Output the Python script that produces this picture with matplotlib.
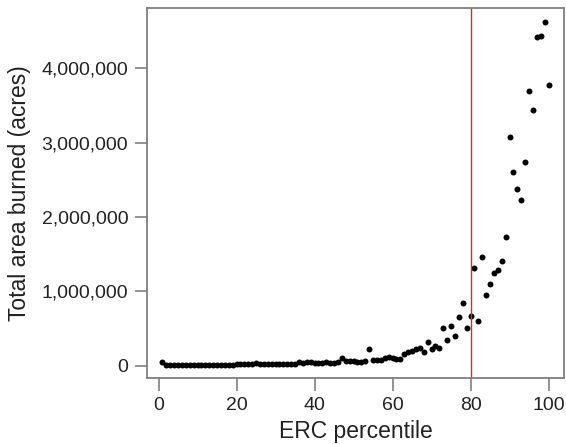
import matplotlib
matplotlib.use("Agg")
import matplotlib.pyplot as plt
from matplotlib.ticker import FuncFormatter

plt.rcParams['font.family'] = ['Liberation Sans', 'DejaVu Sans']

percentile = list(range(1, 101))
area_millions = [
    0.045, 0.010, 0.008, 0.008, 0.009, 0.008, 0.009, 0.010, 0.009, 0.010,
    0.010, 0.011, 0.010, 0.010, 0.011, 0.012, 0.011, 0.012, 0.013, 0.015,
    0.025, 0.020, 0.015, 0.018, 0.030, 0.020, 0.018, 0.020, 0.022, 0.018,
    0.020, 0.022, 0.020, 0.025, 0.022, 0.045, 0.040, 0.045, 0.050, 0.030,
    0.040, 0.035, 0.050, 0.030, 0.040, 0.045, 0.097, 0.060, 0.055, 0.055,
    0.050, 0.045, 0.060, 0.218, 0.074, 0.074, 0.080, 0.097, 0.120, 0.100,
    0.090, 0.084, 0.155, 0.180, 0.200, 0.218, 0.240, 0.180, 0.320, 0.220,
    0.260, 0.240, 0.510, 0.345, 0.530, 0.400, 0.650, 0.840, 0.500, 0.670,
    1.310, 0.600, 1.460, 0.950, 1.100, 1.250, 1.290, 1.400, 1.730, 3.080,
    2.600, 2.380, 2.230, 2.740, 3.690, 3.440, 4.420, 4.430, 4.620, 3.770,
]
area_acres = [v * 1e6 for v in area_millions]
threshold = 80
x_ticks = [0, 20, 40, 60, 80, 100]
y_ticks = [0, 1000000, 2000000, 3000000, 4000000]

fig = plt.figure(figsize=(5.66, 4.44), dpi=100)
ax = fig.add_axes([147/566, 1 - 378/444, (564 - 147)/566, (378 - 8)/444])

ax.plot(percentile, area_acres, 'o', color='black', markersize=4.3, markeredgewidth=0)
ax.axvline(threshold, color='#e0262c', linewidth=1.0)

ax.set_xlim(-2.96, 103.96)
ax.set_ylim(-0.168e6, 4.81e6)
ax.set_xticks(x_ticks)
ax.set_yticks(y_ticks)
ax.yaxis.set_major_formatter(FuncFormatter(lambda v, p: f"{int(v):,}"))

for s in ax.spines.values():
    s.set_color('#7f7f7f')
    s.set_linewidth(1.3)
ax.tick_params(axis='both', length=9, width=1.2, color='#7f7f7f',
               labelsize=14, labelcolor='#222222', pad=4.5)

ax.set_xlabel("ERC percentile", fontsize=16.5, color='#222222')
ax.set_ylabel("Total area burned (acres)", fontsize=16.5, color='#222222')
ax.xaxis.set_label_coords(0.5, (378 - 420) / 370)
ax.yaxis.set_label_coords((31 - 147) / 417, 0.5)

fig.savefig("out.png", dpi=100)
